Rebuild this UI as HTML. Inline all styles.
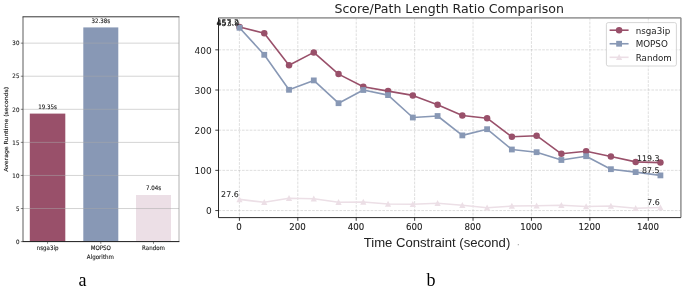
<!DOCTYPE html><html><head><meta charset="utf-8"><title>chart</title><style>html,body{margin:0;padding:0;background:#fff}svg{display:block}text{font-family:"DejaVu Sans","Liberation Sans",sans-serif;fill:#222}.ar{font-family:"Liberation Sans",sans-serif}.se{font-family:"Liberation Serif",serif;fill:#000}</style></head><body>
<svg width="685" height="287" viewBox="0 0 685 287">
<rect width="685" height="287" fill="#fff"/>
<rect x="29.8" y="113.60" width="35.5" height="128.00" fill="#99506a"/>
<rect x="83.3" y="27.41" width="35.0" height="214.19" fill="#8898b5"/>
<rect x="136.0" y="195.03" width="35.0" height="46.57" fill="#ecdfe6"/>
<line x1="23.0" x2="179.0" y1="208.52" y2="208.52" stroke="#a8a8a8" stroke-width="0.5"/>
<line x1="23.0" x2="179.0" y1="175.45" y2="175.45" stroke="#a8a8a8" stroke-width="0.5"/>
<line x1="23.0" x2="179.0" y1="142.38" y2="142.38" stroke="#a8a8a8" stroke-width="0.5"/>
<line x1="23.0" x2="179.0" y1="109.30" y2="109.30" stroke="#a8a8a8" stroke-width="0.5"/>
<line x1="23.0" x2="179.0" y1="76.22" y2="76.22" stroke="#a8a8a8" stroke-width="0.5"/>
<line x1="23.0" x2="179.0" y1="43.15" y2="43.15" stroke="#a8a8a8" stroke-width="0.5"/>
<line x1="179.0" x2="179.0" y1="16.8" y2="241.6" stroke="#a0a0a0" stroke-width="0.8"/>
<line x1="23.0" x2="23.0" y1="16.8" y2="241.6" stroke="#4a4a4a" stroke-width="0.9"/>
<line x1="22.55" x2="179.4" y1="16.8" y2="16.8" stroke="#2a2a2a" stroke-width="0.95"/>
<line x1="22.55" x2="179.4" y1="241.6" y2="241.6" stroke="#1a1a1a" stroke-width="1.0"/>
<line x1="20.8" x2="23.0" y1="241.60" y2="241.60" stroke="#333" stroke-width="0.6"/>
<text transform="translate(19.40,243.85) scale(0.9,1)" font-size="6.15" text-anchor="end" fill="#111" stroke="#111" stroke-width="0.12">0</text>
<line x1="20.8" x2="23.0" y1="208.52" y2="208.52" stroke="#333" stroke-width="0.6"/>
<text transform="translate(19.40,210.77) scale(0.9,1)" font-size="6.15" text-anchor="end" fill="#111" stroke="#111" stroke-width="0.12">5</text>
<line x1="20.8" x2="23.0" y1="175.45" y2="175.45" stroke="#333" stroke-width="0.6"/>
<text transform="translate(19.40,177.70) scale(0.9,1)" font-size="6.15" text-anchor="end" fill="#111" stroke="#111" stroke-width="0.12">10</text>
<line x1="20.8" x2="23.0" y1="142.38" y2="142.38" stroke="#333" stroke-width="0.6"/>
<text transform="translate(19.40,144.62) scale(0.9,1)" font-size="6.15" text-anchor="end" fill="#111" stroke="#111" stroke-width="0.12">15</text>
<line x1="20.8" x2="23.0" y1="109.30" y2="109.30" stroke="#333" stroke-width="0.6"/>
<text transform="translate(19.40,111.55) scale(0.9,1)" font-size="6.15" text-anchor="end" fill="#111" stroke="#111" stroke-width="0.12">20</text>
<line x1="20.8" x2="23.0" y1="76.22" y2="76.22" stroke="#333" stroke-width="0.6"/>
<text transform="translate(19.40,78.47) scale(0.9,1)" font-size="6.15" text-anchor="end" fill="#111" stroke="#111" stroke-width="0.12">25</text>
<line x1="20.8" x2="23.0" y1="43.15" y2="43.15" stroke="#333" stroke-width="0.6"/>
<text transform="translate(19.40,45.40) scale(0.9,1)" font-size="6.15" text-anchor="end" fill="#111" stroke="#111" stroke-width="0.12">30</text>
<line x1="47.55" x2="47.55" y1="241.6" y2="243.79999999999998" stroke="#333" stroke-width="0.6"/>
<text transform="translate(47.55,250.20) scale(0.9,1)" font-size="6.15" text-anchor="middle" fill="#111" stroke="#111" stroke-width="0.12">nsga3ip</text>
<text transform="translate(47.55,109.00) scale(0.9,1)" font-size="6.15" text-anchor="middle" fill="#111" stroke="#111" stroke-width="0.12">19.35s</text>
<line x1="100.8" x2="100.8" y1="241.6" y2="243.79999999999998" stroke="#333" stroke-width="0.6"/>
<text transform="translate(100.80,250.20) scale(0.9,1)" font-size="6.15" text-anchor="middle" fill="#111" stroke="#111" stroke-width="0.12">MOPSO</text>
<text transform="translate(100.80,22.81) scale(0.9,1)" font-size="6.15" text-anchor="middle" fill="#111" stroke="#111" stroke-width="0.12">32.38s</text>
<line x1="153.5" x2="153.5" y1="241.6" y2="243.79999999999998" stroke="#333" stroke-width="0.6"/>
<text transform="translate(153.50,250.20) scale(0.9,1)" font-size="6.15" text-anchor="middle" fill="#111" stroke="#111" stroke-width="0.12">Random</text>
<text transform="translate(153.50,190.43) scale(0.9,1)" font-size="6.15" text-anchor="middle" fill="#111" stroke="#111" stroke-width="0.12">7.04s</text>
<text transform="translate(100.40,258.80) scale(0.9,1)" font-size="6.15" text-anchor="middle" fill="#111" stroke="#111" stroke-width="0.12">Algorithm</text>
<text transform="translate(7.9,129.3) scale(0.9,1) rotate(-90)" font-size="6.15" text-anchor="middle" fill="#111" stroke="#111" stroke-width="0.12">Average Runtime (seconds)</text>
<text class="se" x="82.5" y="285.5" font-size="18" text-anchor="middle">a</text>
<text class="se" x="431" y="285.5" font-size="18" text-anchor="middle">b</text>
<line x1="239.40" x2="239.40" y1="17.8" y2="217.6" stroke="#b0b0b0" stroke-opacity="0.6" stroke-width="0.7" stroke-dasharray="2.7,1.2"/>
<line x1="297.81" x2="297.81" y1="17.8" y2="217.6" stroke="#b0b0b0" stroke-opacity="0.6" stroke-width="0.7" stroke-dasharray="2.7,1.2"/>
<line x1="356.22" x2="356.22" y1="17.8" y2="217.6" stroke="#b0b0b0" stroke-opacity="0.6" stroke-width="0.7" stroke-dasharray="2.7,1.2"/>
<line x1="414.63" x2="414.63" y1="17.8" y2="217.6" stroke="#b0b0b0" stroke-opacity="0.6" stroke-width="0.7" stroke-dasharray="2.7,1.2"/>
<line x1="473.04" x2="473.04" y1="17.8" y2="217.6" stroke="#b0b0b0" stroke-opacity="0.6" stroke-width="0.7" stroke-dasharray="2.7,1.2"/>
<line x1="531.45" x2="531.45" y1="17.8" y2="217.6" stroke="#b0b0b0" stroke-opacity="0.6" stroke-width="0.7" stroke-dasharray="2.7,1.2"/>
<line x1="589.86" x2="589.86" y1="17.8" y2="217.6" stroke="#b0b0b0" stroke-opacity="0.6" stroke-width="0.7" stroke-dasharray="2.7,1.2"/>
<line x1="648.27" x2="648.27" y1="17.8" y2="217.6" stroke="#b0b0b0" stroke-opacity="0.6" stroke-width="0.7" stroke-dasharray="2.7,1.2"/>
<line x1="218.5" x2="680.9" y1="210.55" y2="210.55" stroke="#b0b0b0" stroke-opacity="0.6" stroke-width="0.7" stroke-dasharray="2.7,1.2"/>
<line x1="218.5" x2="680.9" y1="170.37" y2="170.37" stroke="#b0b0b0" stroke-opacity="0.6" stroke-width="0.7" stroke-dasharray="2.7,1.2"/>
<line x1="218.5" x2="680.9" y1="130.19" y2="130.19" stroke="#b0b0b0" stroke-opacity="0.6" stroke-width="0.7" stroke-dasharray="2.7,1.2"/>
<line x1="218.5" x2="680.9" y1="90.01" y2="90.01" stroke="#b0b0b0" stroke-opacity="0.6" stroke-width="0.7" stroke-dasharray="2.7,1.2"/>
<line x1="218.5" x2="680.9" y1="49.83" y2="49.83" stroke="#b0b0b0" stroke-opacity="0.6" stroke-width="0.7" stroke-dasharray="2.7,1.2"/>
<polyline points="239.50,27.00 264.26,33.30 289.02,65.30 313.78,52.40 338.54,74.10 363.30,86.70 388.06,91.10 412.82,95.40 437.58,104.70 462.34,115.50 487.10,118.20 511.86,136.80 536.62,135.70 561.38,153.80 586.14,151.30 610.90,156.50 635.66,161.90 660.42,162.60" fill="none" stroke="#99506a" stroke-width="1.6" stroke-linejoin="round"/>
<circle cx="239.50" cy="27.00" r="3.25" fill="#99506a"/>
<circle cx="264.26" cy="33.30" r="3.25" fill="#99506a"/>
<circle cx="289.02" cy="65.30" r="3.25" fill="#99506a"/>
<circle cx="313.78" cy="52.40" r="3.25" fill="#99506a"/>
<circle cx="338.54" cy="74.10" r="3.25" fill="#99506a"/>
<circle cx="363.30" cy="86.70" r="3.25" fill="#99506a"/>
<circle cx="388.06" cy="91.10" r="3.25" fill="#99506a"/>
<circle cx="412.82" cy="95.40" r="3.25" fill="#99506a"/>
<circle cx="437.58" cy="104.70" r="3.25" fill="#99506a"/>
<circle cx="462.34" cy="115.50" r="3.25" fill="#99506a"/>
<circle cx="487.10" cy="118.20" r="3.25" fill="#99506a"/>
<circle cx="511.86" cy="136.80" r="3.25" fill="#99506a"/>
<circle cx="536.62" cy="135.70" r="3.25" fill="#99506a"/>
<circle cx="561.38" cy="153.80" r="3.25" fill="#99506a"/>
<circle cx="586.14" cy="151.30" r="3.25" fill="#99506a"/>
<circle cx="610.90" cy="156.50" r="3.25" fill="#99506a"/>
<circle cx="635.66" cy="161.90" r="3.25" fill="#99506a"/>
<circle cx="660.42" cy="162.60" r="3.25" fill="#99506a"/>
<polyline points="239.50,27.75 264.26,54.80 289.02,89.80 313.78,80.40 338.54,103.20 363.30,90.00 388.06,95.10 412.82,117.50 437.58,116.00 462.34,135.40 487.10,129.20 511.86,149.50 536.62,152.20 561.38,160.00 586.14,156.20 610.90,169.20 635.66,172.10 660.42,175.40" fill="none" stroke="#8898b5" stroke-width="1.6" stroke-linejoin="round"/>
<rect x="236.60" y="24.85" width="5.8" height="5.8" fill="#8898b5"/>
<rect x="261.36" y="51.90" width="5.8" height="5.8" fill="#8898b5"/>
<rect x="286.12" y="86.90" width="5.8" height="5.8" fill="#8898b5"/>
<rect x="310.88" y="77.50" width="5.8" height="5.8" fill="#8898b5"/>
<rect x="335.64" y="100.30" width="5.8" height="5.8" fill="#8898b5"/>
<rect x="360.40" y="87.10" width="5.8" height="5.8" fill="#8898b5"/>
<rect x="385.16" y="92.20" width="5.8" height="5.8" fill="#8898b5"/>
<rect x="409.92" y="114.60" width="5.8" height="5.8" fill="#8898b5"/>
<rect x="434.68" y="113.10" width="5.8" height="5.8" fill="#8898b5"/>
<rect x="459.44" y="132.50" width="5.8" height="5.8" fill="#8898b5"/>
<rect x="484.20" y="126.30" width="5.8" height="5.8" fill="#8898b5"/>
<rect x="508.96" y="146.60" width="5.8" height="5.8" fill="#8898b5"/>
<rect x="533.72" y="149.30" width="5.8" height="5.8" fill="#8898b5"/>
<rect x="558.48" y="157.10" width="5.8" height="5.8" fill="#8898b5"/>
<rect x="583.24" y="153.30" width="5.8" height="5.8" fill="#8898b5"/>
<rect x="608.00" y="166.30" width="5.8" height="5.8" fill="#8898b5"/>
<rect x="632.76" y="169.20" width="5.8" height="5.8" fill="#8898b5"/>
<rect x="657.52" y="172.50" width="5.8" height="5.8" fill="#8898b5"/>
<polyline points="239.50,199.40 264.26,202.30 289.02,198.30 313.78,198.80 338.54,202.30 363.30,202.05 388.06,204.05 412.82,204.30 437.58,203.30 462.34,205.30 487.10,207.80 511.86,206.05 536.62,205.80 561.38,205.30 586.14,206.55 610.90,206.05 635.66,208.30 660.42,207.45" fill="none" stroke="#ecdfe6" stroke-width="1.6" stroke-linejoin="round"/>
<polygon points="239.50,196.20 236.40,202.20 242.60,202.20" fill="#ecdfe6"/>
<polygon points="264.26,199.10 261.16,205.10 267.36,205.10" fill="#ecdfe6"/>
<polygon points="289.02,195.10 285.92,201.10 292.12,201.10" fill="#ecdfe6"/>
<polygon points="313.78,195.60 310.68,201.60 316.88,201.60" fill="#ecdfe6"/>
<polygon points="338.54,199.10 335.44,205.10 341.64,205.10" fill="#ecdfe6"/>
<polygon points="363.30,198.85 360.20,204.85 366.40,204.85" fill="#ecdfe6"/>
<polygon points="388.06,200.85 384.96,206.85 391.16,206.85" fill="#ecdfe6"/>
<polygon points="412.82,201.10 409.72,207.10 415.92,207.10" fill="#ecdfe6"/>
<polygon points="437.58,200.10 434.48,206.10 440.68,206.10" fill="#ecdfe6"/>
<polygon points="462.34,202.10 459.24,208.10 465.44,208.10" fill="#ecdfe6"/>
<polygon points="487.10,204.60 484.00,210.60 490.20,210.60" fill="#ecdfe6"/>
<polygon points="511.86,202.85 508.76,208.85 514.96,208.85" fill="#ecdfe6"/>
<polygon points="536.62,202.60 533.52,208.60 539.72,208.60" fill="#ecdfe6"/>
<polygon points="561.38,202.10 558.28,208.10 564.48,208.10" fill="#ecdfe6"/>
<polygon points="586.14,203.35 583.04,209.35 589.24,209.35" fill="#ecdfe6"/>
<polygon points="610.90,202.85 607.80,208.85 614.00,208.85" fill="#ecdfe6"/>
<polygon points="635.66,205.10 632.56,211.10 638.76,211.10" fill="#ecdfe6"/>
<polygon points="660.42,204.25 657.32,210.25 663.52,210.25" fill="#ecdfe6"/>
<line x1="218.5" x2="680.9" y1="17.8" y2="17.8" stroke="#a0a0a0" stroke-width="1.7"/>
<line x1="680.9" x2="680.9" y1="17.8" y2="217.6" stroke="#909090" stroke-width="1.5"/>
<line x1="218.5" x2="218.5" y1="17.8" y2="217.6" stroke="#111" stroke-width="0.9"/>
<line x1="218.5" x2="680.9" y1="217.6" y2="217.6" stroke="#111" stroke-width="0.9"/>
<line x1="239.40" x2="239.40" y1="217.6" y2="220.79999999999998" stroke="#111" stroke-width="0.8"/>
<text transform="translate(239.10,230.2) scale(0.94,1)" font-size="9.2" fill="#111" stroke="#111" stroke-width="0.1" text-anchor="middle">0</text>
<line x1="297.81" x2="297.81" y1="217.6" y2="220.79999999999998" stroke="#111" stroke-width="0.8"/>
<text transform="translate(297.51,230.2) scale(0.94,1)" font-size="9.2" fill="#111" stroke="#111" stroke-width="0.1" text-anchor="middle">200</text>
<line x1="356.22" x2="356.22" y1="217.6" y2="220.79999999999998" stroke="#111" stroke-width="0.8"/>
<text transform="translate(355.92,230.2) scale(0.94,1)" font-size="9.2" fill="#111" stroke="#111" stroke-width="0.1" text-anchor="middle">400</text>
<line x1="414.63" x2="414.63" y1="217.6" y2="220.79999999999998" stroke="#111" stroke-width="0.8"/>
<text transform="translate(414.33,230.2) scale(0.94,1)" font-size="9.2" fill="#111" stroke="#111" stroke-width="0.1" text-anchor="middle">600</text>
<line x1="473.04" x2="473.04" y1="217.6" y2="220.79999999999998" stroke="#111" stroke-width="0.8"/>
<text transform="translate(472.74,230.2) scale(0.94,1)" font-size="9.2" fill="#111" stroke="#111" stroke-width="0.1" text-anchor="middle">800</text>
<line x1="531.45" x2="531.45" y1="217.6" y2="220.79999999999998" stroke="#111" stroke-width="0.8"/>
<text transform="translate(531.15,230.2) scale(0.94,1)" font-size="9.2" fill="#111" stroke="#111" stroke-width="0.1" text-anchor="middle">1000</text>
<line x1="589.86" x2="589.86" y1="217.6" y2="220.79999999999998" stroke="#111" stroke-width="0.8"/>
<text transform="translate(589.56,230.2) scale(0.94,1)" font-size="9.2" fill="#111" stroke="#111" stroke-width="0.1" text-anchor="middle">1200</text>
<line x1="648.27" x2="648.27" y1="217.6" y2="220.79999999999998" stroke="#111" stroke-width="0.8"/>
<text transform="translate(647.97,230.2) scale(0.94,1)" font-size="9.2" fill="#111" stroke="#111" stroke-width="0.1" text-anchor="middle">1400</text>
<line x1="215.3" x2="218.5" y1="210.55" y2="210.55" stroke="#111" stroke-width="0.8"/>
<text x="211.8" y="214.25" font-size="9.0" text-anchor="end">0</text>
<line x1="215.3" x2="218.5" y1="170.37" y2="170.37" stroke="#111" stroke-width="0.8"/>
<text x="211.8" y="174.07" font-size="9.0" text-anchor="end">100</text>
<line x1="215.3" x2="218.5" y1="130.19" y2="130.19" stroke="#111" stroke-width="0.8"/>
<text x="211.8" y="133.89" font-size="9.0" text-anchor="end">200</text>
<line x1="215.3" x2="218.5" y1="90.01" y2="90.01" stroke="#111" stroke-width="0.8"/>
<text x="211.8" y="93.71" font-size="9.0" text-anchor="end">300</text>
<line x1="215.3" x2="218.5" y1="49.83" y2="49.83" stroke="#111" stroke-width="0.8"/>
<text x="211.8" y="53.53" font-size="9.0" text-anchor="end">400</text>
<text class="ar" x="437" y="247.3" font-size="13.1" text-anchor="middle">Time Constraint (second)</text>
<circle cx="518.3" cy="244.7" r="0.6" fill="#999"/>
<text x="449.2" y="12.7" font-size="12.55" text-anchor="middle">Score/Path Length Ratio Comparison</text>
<text x="239.00" y="25.30" font-size="7.9" text-anchor="end" fill="#111" stroke="#111" stroke-width="0.05">457.2</text>
<text x="239.20" y="25.90" font-size="7.9" text-anchor="end" fill="#111" stroke="#111" stroke-width="0.05">453.9</text>
<text x="238.70" y="197.40" font-size="7.9" text-anchor="end" fill="#111" stroke="#111" stroke-width="0.05">27.6</text>
<text x="659.60" y="161.00" font-size="7.9" text-anchor="end" fill="#111" stroke="#111" stroke-width="0.05">119.3</text>
<text x="659.60" y="173.00" font-size="7.9" text-anchor="end" fill="#111" stroke="#111" stroke-width="0.05">87.5</text>
<text x="659.80" y="205.00" font-size="7.9" text-anchor="end" fill="#111" stroke="#111" stroke-width="0.05">7.6</text>
<rect x="606.4" y="22.6" width="70.0" height="43.4" rx="1.8" fill="#fff" fill-opacity="0.8" stroke="#ccc" stroke-width="0.8"/>
<line x1="609.6" x2="628.6" y1="30.20" y2="30.20" stroke="#99506a" stroke-width="1.6"/>
<circle cx="619.1" cy="30.20" r="3.25" fill="#99506a"/>
<text transform="translate(635.7,33.50) scale(0.94,1)" font-size="9.3">nsga3ip</text>
<line x1="609.6" x2="628.6" y1="43.75" y2="43.75" stroke="#8898b5" stroke-width="1.6"/>
<rect x="616.2" y="40.85" width="5.8" height="5.8" fill="#8898b5"/>
<text transform="translate(635.7,47.05) scale(0.94,1)" font-size="9.3">MOPSO</text>
<line x1="609.6" x2="628.6" y1="57.30" y2="57.30" stroke="#ecdfe6" stroke-width="1.6"/>
<polygon points="619.10,54.10 616.00,60.10 622.20,60.10" fill="#ecdfe6"/>
<text transform="translate(635.7,60.60) scale(0.94,1)" font-size="9.3">Random</text>
</svg></body></html>
